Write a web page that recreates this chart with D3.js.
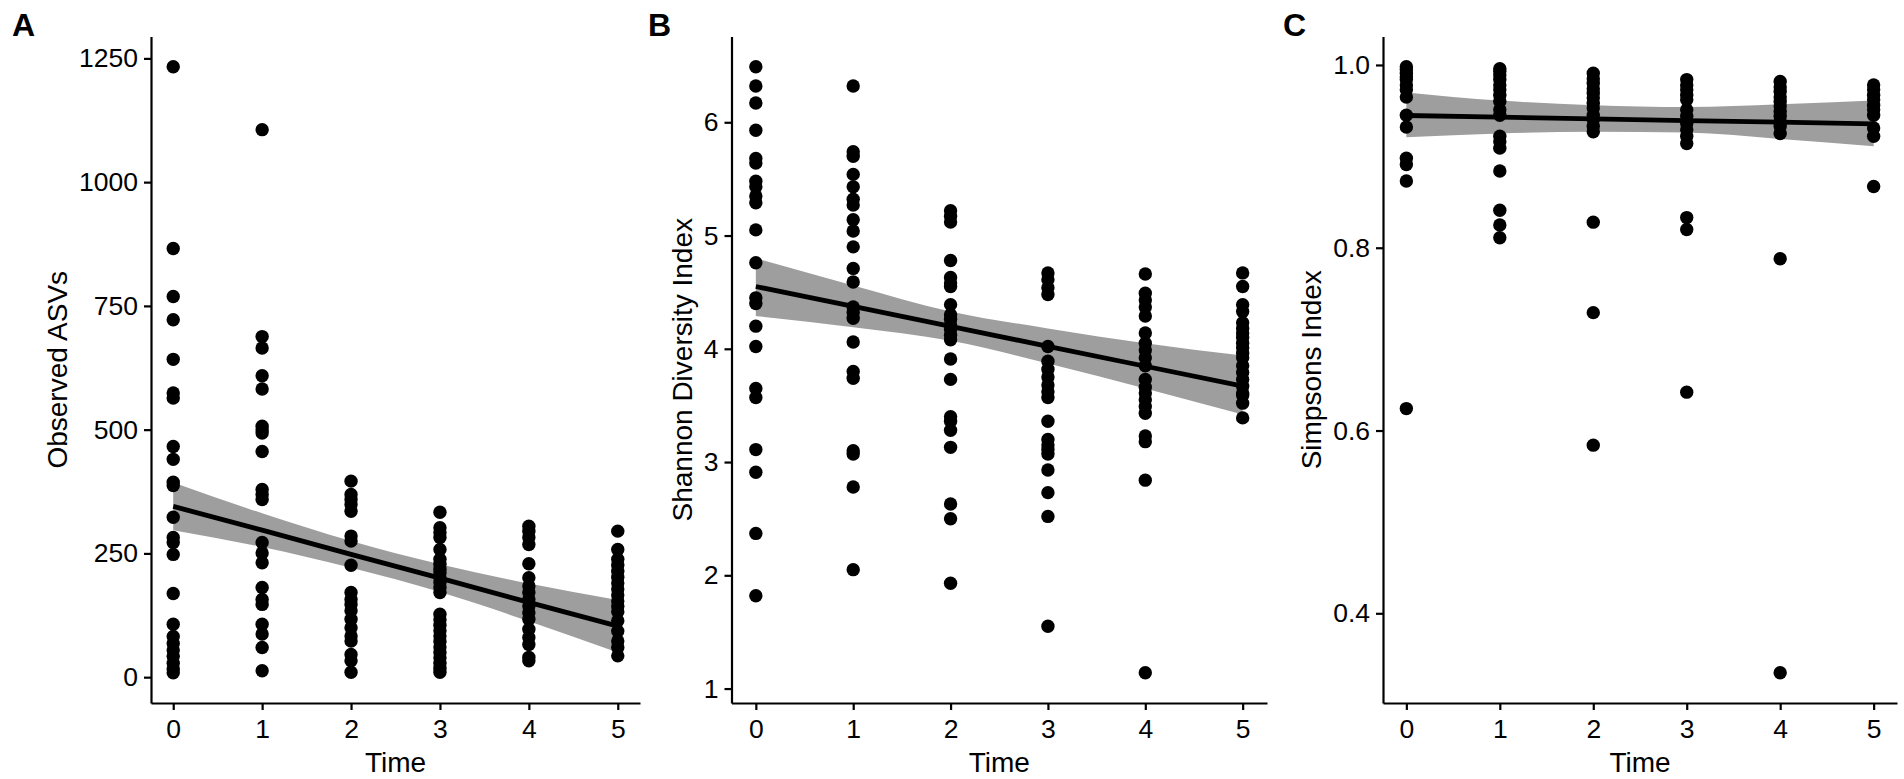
<!DOCTYPE html>
<html>
<head>
<meta charset="utf-8">
<script src="https://cdn.jsdelivr.net/npm/d3@7"></script>
<style>
  html, body { margin: 0; padding: 0; background: #fff; }
  svg { display: block; font-family: "Liberation Sans", Arial, Helvetica, sans-serif; }
</style>
</head>
<body>
<svg id="chart" width="1904" height="779"></svg>
<script>
// Time points (x axis, shared by the three panels)
const timePoints = [0, 1, 2, 3, 4, 5];

// Observed ASVs, one array per time point
const observedASVs = [
  [1233, 866, 769, 722, 642, 574, 564, 466, 440, 394, 387, 323, 282, 272, 248, 169, 107, 82, 68, 55, 42, 28, 16, 9],
  [1106, 688, 665, 609, 582, 507, 500, 493, 456, 379, 369, 359, 272, 251, 231, 181, 157, 147, 107, 87, 60, 13],
  [396, 369, 359, 349, 335, 285, 275, 226, 171, 157, 147, 134, 117, 100, 83, 73, 46, 33, 10],
  [333, 302, 292, 282, 258, 238, 228, 218, 211, 201, 191, 181, 171, 127, 116, 105, 94, 83, 72, 61, 50, 39, 28, 18, 10],
  [305, 295, 282, 268, 229, 201, 184, 171, 157, 144, 130, 117, 97, 80, 66, 40, 33],
  [295, 258, 238, 226, 214, 202, 190, 178, 166, 154, 143, 132, 114, 93, 73, 60, 43]
];

// Shannon diversity index
const shannonIndex = [
  [6.49, 6.32, 6.17, 5.93, 5.68, 5.64, 5.48, 5.43, 5.35, 5.29, 5.05, 4.76, 4.45, 4.40, 4.20, 4.02, 3.65, 3.57, 3.11, 2.91, 2.37, 1.82],
  [6.32, 5.74, 5.70, 5.54, 5.43, 5.32, 5.27, 5.14, 5.04, 4.90, 4.71, 4.59, 4.37, 4.32, 4.27, 4.06, 3.80, 3.74, 3.10, 3.07, 2.78, 2.05],
  [5.22, 5.17, 5.12, 4.78, 4.63, 4.58, 4.55, 4.39, 4.30, 4.26, 4.21, 4.17, 4.12, 4.08, 3.91, 3.73, 3.40, 3.36, 3.28, 3.13, 2.63, 2.50, 1.93],
  [4.67, 4.61, 4.54, 4.48, 4.02, 3.89, 3.82, 3.75, 3.68, 3.62, 3.57, 3.36, 3.20, 3.15, 3.11, 3.07, 2.93, 2.73, 2.52, 1.55],
  [4.66, 4.49, 4.43, 4.37, 4.29, 4.14, 4.05, 3.99, 3.92, 3.85, 3.73, 3.66, 3.61, 3.55, 3.49, 3.43, 3.23, 3.18, 2.84, 1.14],
  [4.67, 4.55, 4.39, 4.33, 4.23, 4.18, 4.14, 4.10, 4.05, 4.01, 3.96, 3.92, 3.85, 3.79, 3.73, 3.67, 3.61, 3.59, 3.52, 3.39]
];

// Simpsons index
const simpsonsIndex = [
  [0.998, 0.995, 0.991, 0.987, 0.984, 0.978, 0.973, 0.965, 0.945, 0.932, 0.898, 0.891, 0.873, 0.624],
  [0.996, 0.993, 0.989, 0.984, 0.978, 0.973, 0.967, 0.960, 0.951, 0.945, 0.922, 0.916, 0.909, 0.884, 0.841, 0.825, 0.811],
  [0.991, 0.985, 0.980, 0.974, 0.969, 0.964, 0.958, 0.953, 0.945, 0.940, 0.933, 0.927, 0.828, 0.729, 0.584],
  [0.984, 0.978, 0.973, 0.967, 0.962, 0.951, 0.944, 0.936, 0.929, 0.922, 0.914, 0.833, 0.820, 0.642],
  [0.982, 0.976, 0.971, 0.965, 0.960, 0.955, 0.949, 0.944, 0.938, 0.933, 0.925, 0.788, 0.335],
  [0.978, 0.973, 0.967, 0.962, 0.956, 0.951, 0.945, 0.931, 0.922, 0.867]
];

// linear fit and its confidence band, read at each time point
const fitASVs      = [345, 297, 248, 200, 151, 103];
const fitASVsLow   = [297, 263, 221, 172, 113, 50];
const fitASVsHigh  = [393, 331, 275, 228, 189, 156];

const fitShannon     = [4.55, 4.374, 4.198, 4.022, 3.846, 3.67];
const fitShannonLow  = [4.29, 4.19, 4.07, 3.87, 3.65, 3.42];
const fitShannonHigh = [4.80, 4.56, 4.33, 4.18, 4.05, 3.94];

const fitSimpson     = [0.9447, 0.9429, 0.9411, 0.9392, 0.9374, 0.9356];
const fitSimpsonLow  = [0.921, 0.925, 0.927, 0.926, 0.919, 0.911];
const fitSimpsonHigh = [0.970, 0.961, 0.956, 0.954, 0.957, 0.961];

// tick labels
const yTicksASVs    = [0, 250, 500, 750, 1000, 1250];
const yTicksShannon = [1, 2, 3, 4, 5, 6];
const yTicksSimpson = [0.4, 0.6, 0.8, 1.0];

const panelLabels = ["A", "B", "C"];
const yTitles = ["Observed ASVs", "Shannon Diversity Index", "Simpsons Index"];
const xTitle = "Time";

const svg = d3.select("#chart");
const panelTop = 36.5, panelBottom = 703;

const panels = [
  { label: panelLabels[0], title: yTitles[0], values: observedASVs, fit: fitASVs, low: fitASVsLow, high: fitASVsHigh,
    ticks: yTicksASVs, fmt: d3.format("d"), left: 151, right: 640, labelX: 12 },
  { label: panelLabels[1], title: yTitles[1], values: shannonIndex, fit: fitShannon, low: fitShannonLow, high: fitShannonHigh,
    ticks: yTicksShannon, fmt: d3.format("d"), left: 731.5, right: 1267, labelX: 648 },
  { label: panelLabels[2], title: yTitles[2], values: simpsonsIndex, fit: fitSimpson, low: fitSimpsonLow, high: fitSimpsonHigh,
    ticks: yTicksSimpson, fmt: d3.format(".1f"), left: 1383, right: 1897, labelX: 1283 }
];

panels.forEach(p => {
  const x = d3.scaleLinear().domain([-0.25, 5.25]).range([p.left, p.right]);

  // ggplot style 5% expansion on the data range
  const [lo, hi] = d3.extent(p.values.flat());
  const pad = (hi - lo) * 0.05;
  const y = d3.scaleLinear().domain([lo - pad, hi + pad]).range([panelBottom, panelTop]);

  const g = svg.append("g");

  const band = timePoints.map((t, i) => ({ t, fit: p.fit[i], lo: p.low[i], hi: p.high[i] }));

  // confidence ribbon
  g.append("path")
    .datum(band)
    .attr("d", d3.area()
      .x(d => x(d.t))
      .y0(d => y(d.lo))
      .y1(d => y(d.hi))
      .curve(d3.curveMonotoneX))
    .attr("fill", "#9e9e9e");

  // points
  const pts = p.values.flatMap((vals, i) => vals.map(v => ({ t: timePoints[i], v })));
  g.selectAll("circle")
    .data(pts)
    .join("circle")
    .attr("cx", d => x(d.t))
    .attr("cy", d => y(d.v))
    .attr("r", 6.7)
    .attr("fill", "#000");

  // fitted line
  g.append("path")
    .datum(band)
    .attr("d", d3.line().x(d => x(d.t)).y(d => y(d.fit)))
    .attr("fill", "none")
    .attr("stroke", "#000")
    .attr("stroke-width", 4.8);

  // y axis
  const yAxis = g.append("g")
    .attr("transform", `translate(${p.left},0)`)
    .call(d3.axisLeft(y).tickValues(p.ticks).tickFormat(p.fmt)
      .tickSize(7).tickSizeOuter(0).tickPadding(6));

  // x axis
  const xAxis = g.append("g")
    .attr("transform", `translate(0,${panelBottom})`)
    .call(d3.axisBottom(x).tickValues(timePoints).tickFormat(d3.format("d"))
      .tickSize(7).tickSizeOuter(0).tickPadding(9.5));

  [yAxis, xAxis].forEach(a => {
    a.select(".domain").attr("stroke", "#000").attr("stroke-width", 2.2);
    a.selectAll(".tick line").attr("stroke", "#000").attr("stroke-width", 2.2);
    a.selectAll(".tick text")
      .attr("fill", "#000")
      .style("font-size", "26.5px")
      .style("font-family", "'Liberation Sans', Arial, Helvetica, sans-serif");
  });

  // y title sits left of the widest tick label
  let minLeft = Infinity;
  yAxis.selectAll(".tick text").each(function () {
    const b = this.getBBox();
    minLeft = Math.min(minLeft, p.left + b.x);
  });
  const midY = (panelTop + panelBottom) / 2;
  g.append("text")
    .attr("transform", `translate(${minLeft - 12},${midY}) rotate(-90)`)
    .attr("text-anchor", "middle")
    .style("font-size", "28px")
    .attr("fill", "#000")
    .text(p.title);

  // x title
  g.append("text")
    .attr("x", (p.left + p.right) / 2)
    .attr("y", panelBottom + 69)
    .attr("text-anchor", "middle")
    .style("font-size", "28px")
    .attr("fill", "#000")
    .text(xTitle);

  // panel tag
  g.append("text")
    .attr("x", p.labelX)
    .attr("y", 36)
    .style("font-size", "32px")
    .style("font-weight", "bold")
    .attr("fill", "#000")
    .text(p.label);
});
</script>
</body>
</html>
